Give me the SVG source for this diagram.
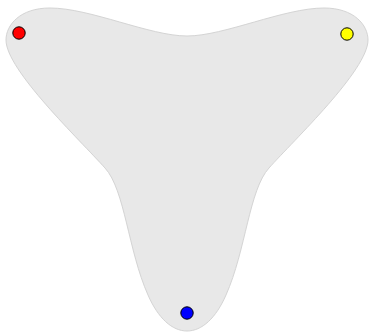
<svg xmlns="http://www.w3.org/2000/svg" width="369" height="332" viewBox="0 0 369 332">
<style>
.blob{fill:#e8e8e8;stroke:#d4d4d4;stroke-width:1}
.pt{stroke:#000;stroke-width:1}
</style>
<rect width="369" height="332" fill="#fff"/>
<g id="shape">
<path class="blob" d="M187,36 C150,36 90,8 50,8 C20,8 6,25 6,40 C6,70 80,140 105,168 C125,190 128,250 148,295 C158,318 172,331 187,331 C202,331 216,318 226,295 C246,250 249,190 269,168 C294,140 368,70 368,40 C368,25 354,8 324,8 C284,8 224,36 187,36 Z"/>
</g>
<g id="red"><circle class="pt" cx="19" cy="33" r="6.2" fill="#ff0000"/></g>
<g id="yellow"><circle class="pt" cx="347" cy="34" r="6.2" fill="#ffff00"/></g>
<g id="blue"><circle class="pt" cx="187" cy="313" r="6.2" fill="#0000ff"/></g>
<g id="connectors"/>
</svg>
